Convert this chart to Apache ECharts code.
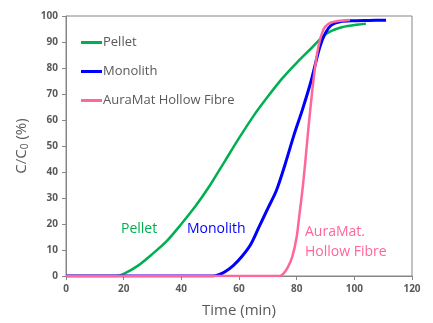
<!DOCTYPE html>
<html>
<head>
<meta charset="utf-8">
<script src="https://cdn.jsdelivr.net/npm/echarts@6/dist/echarts.min.js"></script>
<style>
  html, body { margin: 0; padding: 0; background: #fff; }
  #chart { width: 433px; height: 323px; }
</style>
</head>
<body>
<div id="chart"></div>
<script>
// breakthrough curves: [time (min), C/C0 (%)]
const pellet = [
  [0, 0], [17.5, 0], [20, 0.8], [25, 4], [30, 8.5], [35, 13.5], [40, 20], [45, 27],
  [50, 35], [55, 44], [60, 53], [65, 61.5], [70, 69], [75, 76], [80, 82],
  [85, 87.5], [90, 93], [95, 95.5], [100, 96.5], [104, 97]
];
const monolith = [
  [0, 0], [51, 0], [53, 0.5], [55, 1.5], [58, 4], [61, 7.5], [64, 12], [67, 19],
  [70, 26], [73, 33], [76, 43], [79, 54], [82, 64], [85, 75], [88, 88],
  [90, 93.5], [92, 96.5], [95, 97.8], [100, 98.2], [105, 98.3], [111, 98.4]
];
const hollowFibre = [
  [0, 0], [74, 0], [75.5, 1], [77, 3.5], [78.5, 7.5], [80, 15], [81, 24], [82, 33],
  [83, 44], [84, 56], [85, 67], [86, 77], [87, 85], [88, 90.5], [89, 94],
  [90, 96], [92, 97.5], [95, 98.2], [98.5, 98.5]
];
const seriesNames = ['Pellet', 'Monolith', 'AuraMat Hollow Fibre'];
const seriesColors = ['#00B050', '#0000FF', '#FF6699'];

const chart = echarts.init(document.getElementById('chart'), null, { renderer: 'canvas' });

const axisGrey = '#868686';
const labelGrey = '#595959';
const font = "'Open Sans', 'Noto Sans', sans-serif";

const option = {
  animation: false,
  grid: {
    left: 66, top: 16, right: 21, bottom: 46,
    show: true, borderColor: axisGrey, borderWidth: 1
  },
  legend: {
    orient: 'vertical',
    left: 76, top: 31,
    itemWidth: 21, itemHeight: 3, itemGap: 16,
    icon: 'rect',
    textStyle: { color: labelGrey, fontSize: 13, fontFamily: font, padding: [0, 0, 0, -4] },
    data: seriesNames
  },
  xAxis: {
    type: 'value', min: 0, max: 120, interval: 20,
    name: 'Time (min)', nameLocation: 'middle', nameGap: 27,
    nameTextStyle: { color: labelGrey, fontSize: 15, fontFamily: font },
    axisLine: { lineStyle: { color: axisGrey } },
    axisTick: { show: true, inside: false, length: 4, lineStyle: { color: axisGrey } },
    axisLabel: { color: labelGrey, fontSize: 10, fontWeight: 'bold', fontFamily: font, margin: 8 },
    splitLine: { show: false }
  },
  yAxis: {
    type: 'value', min: 0, max: 100, interval: 10,
    name: '{n|C/C}{s|0}{n| (%)}', nameLocation: 'middle', nameGap: 34, nameRotate: 90,
    nameTextStyle: {
      rich: {
        n: { color: labelGrey, fontSize: 15, fontFamily: font },
        s: { color: labelGrey, fontSize: 10, fontFamily: font, verticalAlign: 'bottom', padding: [6, 0, 0, 0] }
      }
    },
    axisLine: { show: true, lineStyle: { color: axisGrey } },
    axisTick: { show: true, inside: false, length: 4, lineStyle: { color: axisGrey } },
    axisLabel: { color: labelGrey, fontSize: 10, fontWeight: 'bold', fontFamily: font, margin: 8 },
    splitLine: { show: false }
  },
  series: [pellet, monolith, hollowFibre].map((d, i) => ({
    name: seriesNames[i],
    type: 'line',
    data: d,
    smooth: 0.3,
    showSymbol: false,
    color: seriesColors[i],
    lineStyle: { width: i === 1 ? 3 : 2.5, color: seriesColors[i] },
    z: 2 + i
  })),
  graphic: [
    { type: 'text', left: 121, top: 222, style: { text: 'Pellet', fill: seriesColors[0], font: '14px ' + font } },
    { type: 'text', left: 187, top: 222, style: { text: 'Monolith', fill: seriesColors[1], font: '14px ' + font } },
    { type: 'text', left: 305, top: 222, style: { text: 'AuraMat.\nHollow Fibre', fill: seriesColors[2], font: '14px ' + font, lineHeight: 20 } }
  ]
};

chart.setOption(option);
</script>
</body>
</html>
